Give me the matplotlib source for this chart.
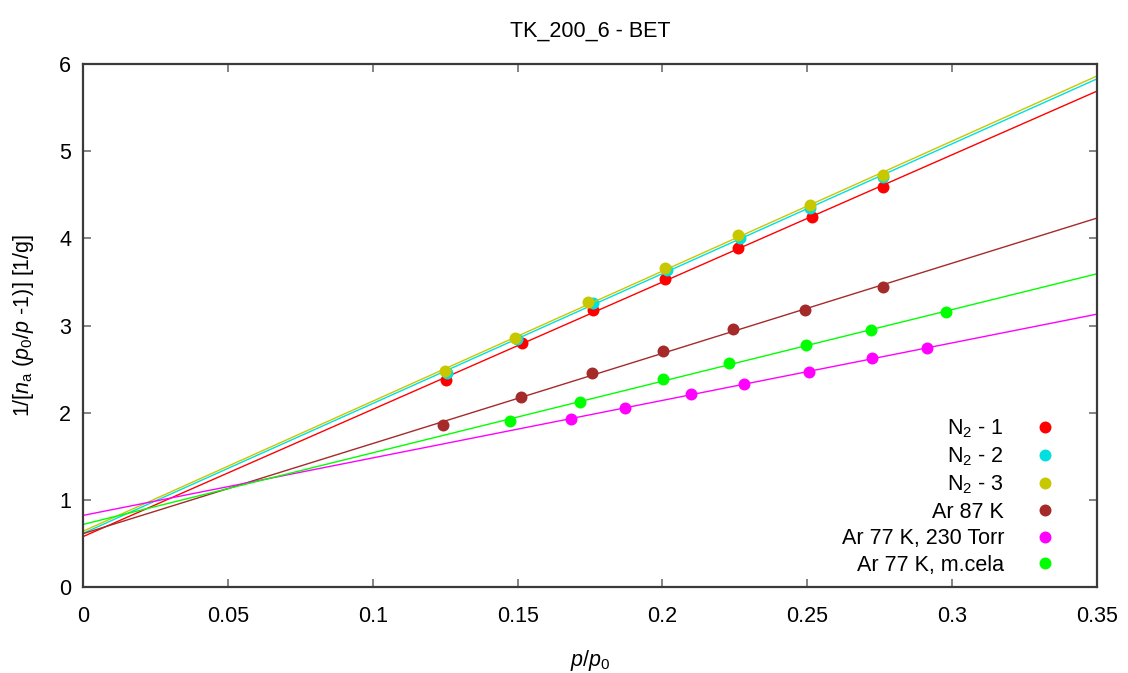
import numpy as np
import matplotlib
matplotlib.use("Agg")
import matplotlib.pyplot as plt

# BET plot: 1/[n_a (p0/p - 1)] against p/p0 for each isotherm
labels = ["N$_2$ - 1", "N$_2$ - 2", "N$_2$ - 3", "Ar 87 K",
          "Ar 77 K, 230 Torr", "Ar 77 K, m.cela"]
colors = ["#ff0000", "#00e0e0", "#c8c800", "#a52a2a", "#ff00ff", "#00ff00"]

n2_1_x = [0.1253, 0.1516, 0.1761, 0.2009, 0.2262, 0.2515, 0.2760]
n2_1_y = [2.374, 2.800, 3.174, 3.531, 3.885, 4.247, 4.589]

n2_2_x = [0.1258, 0.1497, 0.1760, 0.2015, 0.2267, 0.2509, 0.2760]
n2_2_y = [2.458, 2.850, 3.257, 3.638, 4.007, 4.349, 4.703]

n2_3_x = [0.1250, 0.1491, 0.1744, 0.2009, 0.2262, 0.2509, 0.2760]
n2_3_y = [2.477, 2.857, 3.268, 3.656, 4.038, 4.380, 4.729]

ar87_x = [0.1242, 0.1511, 0.1756, 0.2003, 0.2245, 0.2492, 0.2762]
ar87_y = [1.857, 2.180, 2.451, 2.705, 2.965, 3.181, 3.436]

ar77_230_x = [0.1684, 0.1872, 0.2098, 0.2283, 0.2507, 0.2725, 0.2913]
ar77_230_y = [1.926, 2.058, 2.211, 2.332, 2.469, 2.622, 2.740]

ar77_mc_x = [0.1474, 0.1716, 0.2003, 0.2231, 0.2496, 0.2719, 0.2979]
ar77_mc_y = [1.906, 2.127, 2.382, 2.572, 2.774, 2.945, 3.150]

series = [(n2_1_x, n2_1_y), (n2_2_x, n2_2_y), (n2_3_x, n2_3_y),
          (ar87_x, ar87_y), (ar77_230_x, ar77_230_y), (ar77_mc_x, ar77_mc_y)]

xticks = [0, 0.05, 0.1, 0.15, 0.2, 0.25, 0.3, 0.35]
xticklabels = ["0", "0.05", "0.1", "0.15", "0.2", "0.25", "0.3", "0.35"]
yticks = [0, 1, 2, 3, 4, 5, 6]

plt.rcParams["font.family"] = ["Liberation Sans", "DejaVu Sans"]
plt.rcParams["mathtext.fontset"] = "custom"
plt.rcParams["mathtext.rm"] = "Liberation Sans"
plt.rcParams["mathtext.it"] = "Liberation Sans:italic"

fig = plt.figure(figsize=(11.28, 6.73), dpi=100)
ax = fig.add_axes([83 / 1128, 86 / 673, 1014 / 1128, 523 / 673])

xs = np.array([0.0, 0.35])
for (x, y), c, lab in zip(series, colors, labels):
    # least squares BET line across the whole axis
    k, b = np.polyfit(x, y, 1)
    ax.plot(xs, k * xs + b, color=c, lw=1.0)
    ax.plot(x, y, "o", color=c, ms=8.6, mec="none", label=lab)

ax.set_xlim(0, 0.35)
ax.set_ylim(0, 6)
ax.set_xticks(xticks)
ax.set_xticklabels(xticklabels)
ax.set_yticks(yticks)

for s in ax.spines.values():
    s.set_color("#3a3a3a")
    s.set_linewidth(1.6)
ax.tick_params(direction="in", length=6, width=1.2, color="#707070",
               top=True, right=True, labelsize=15.5)
ax.tick_params(axis="x", pad=13.5)
ax.tick_params(axis="y", pad=8.5)

ax.set_title("TK_200_6 - BET", fontsize=15.5, pad=19.5)
ax.set_xlabel("$p$/$p_0$", fontsize=15.5, labelpad=15)
ax.set_ylabel(r"1/[$n_\mathrm{a}$ ($p_0$/$p$ -1)] [1/g]", fontsize=15.5, labelpad=16.5)

ax.legend(loc="lower right", bbox_to_anchor=(0.970, 0.0005), frameon=False,
          markerfirst=False, numpoints=1, handlelength=1.0, handletextpad=1.4,
          labelspacing=0.26, borderpad=0, fontsize=15.5)

fig.savefig("out.png", dpi=100)
